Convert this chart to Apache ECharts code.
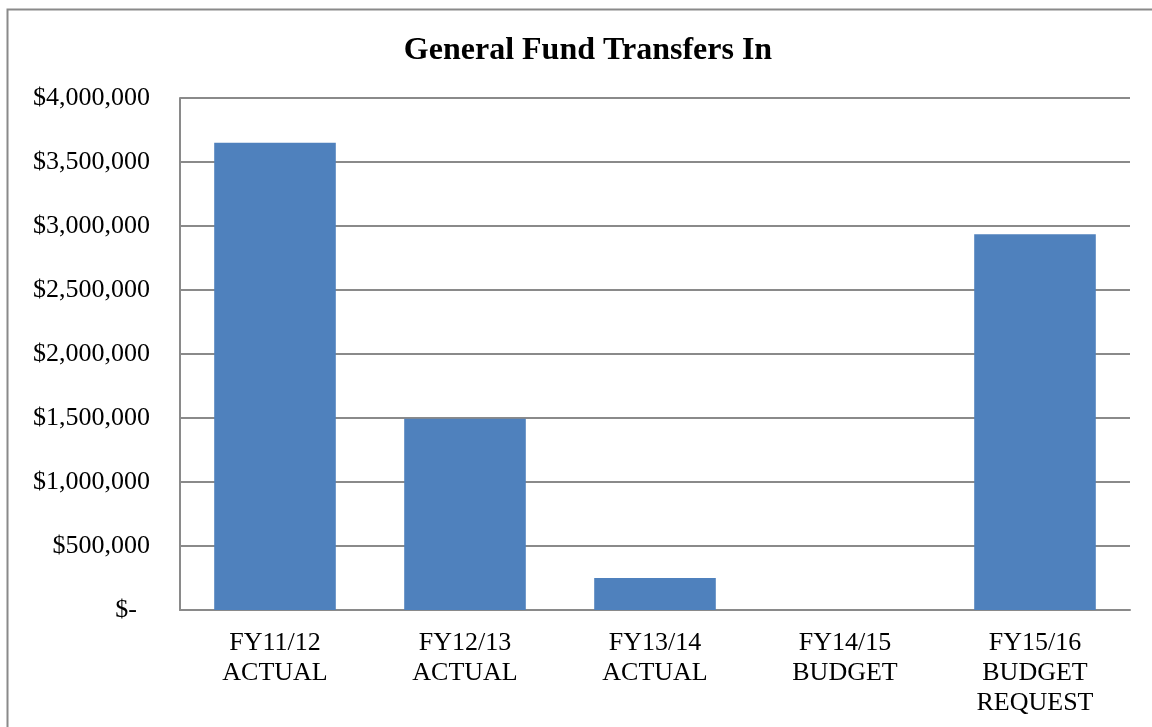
<!DOCTYPE html>
<html>
<head>
<meta charset="utf-8">
<script src="https://cdn.jsdelivr.net/npm/echarts@6/dist/echarts.min.js"></script>
<style>
  html, body { margin: 0; padding: 0; background: #fff; }
  #chart { width: 1152px; height: 727px; }
</style>
</head>
<body>
<div id="chart"></div>
<script>
// Fiscal year categories and transfer amounts (USD)
const categories = ['FY11/12\nACTUAL', 'FY12/13\nACTUAL', 'FY13/14\nACTUAL', 'FY14/15\nBUDGET', 'FY15/16\nBUDGET\nREQUEST'];
const transfersIn = [3650000, 1495000, 250000, 0, 2935000];
const yTicks = { min: 0, max: 4000000, interval: 500000 };

const chart = echarts.init(document.getElementById('chart'));
const serif = '"Liberation Serif", "Times New Roman", serif';

function money(v) {
  if (v === 0) return '{z|$-}';
  return '$' + v.toLocaleString('en-US');
}

chart.setOption({
  animation: false,
  backgroundColor: '#fff',
  title: {
    text: 'General Fund Transfers In',
    left: 583,
    textAlign: 'center',
    top: 30,
    textStyle: { fontFamily: serif, fontSize: 32, fontWeight: 'bold', color: '#000' }
  },
  graphic: [{
    type: 'rect',
    shape: { x: 7.5, y: 9.5, width: 1160, height: 740 },
    style: { fill: 'none', stroke: '#8a8a8a', lineWidth: 2 },
    silent: true
  }],
  grid: { left: 180, right: 22, top: 98, bottom: 117 },
  xAxis: {
    type: 'category',
    data: categories,
    axisLine: { show: true, lineStyle: { color: '#8a8a8a', width: 2 } },
    axisTick: { show: false },
    axisLabel: {
      fontFamily: serif, fontSize: 26, color: '#000', lineHeight: 30, margin: 18
    }
  },
  yAxis: {
    type: 'value',
    min: yTicks.min, max: yTicks.max, interval: yTicks.interval,
    axisLine: { show: true, lineStyle: { color: '#8a8a8a', width: 2 } },
    axisTick: { show: false },
    splitLine: { lineStyle: { color: '#8a8a8a', width: 2 } },
    axisLabel: {
      fontFamily: serif, fontSize: 26, color: '#000', margin: 30,
      formatter: money,
      rich: { z: { fontFamily: serif, fontSize: 26, color: '#000', padding: [0, 13, 0, 0] } }
    }
  },
  series: [{
    type: 'bar',
    data: transfersIn,
    barWidth: '64%',
    itemStyle: { color: '#4F81BD' }
  }]
});
</script>
</body>
</html>
